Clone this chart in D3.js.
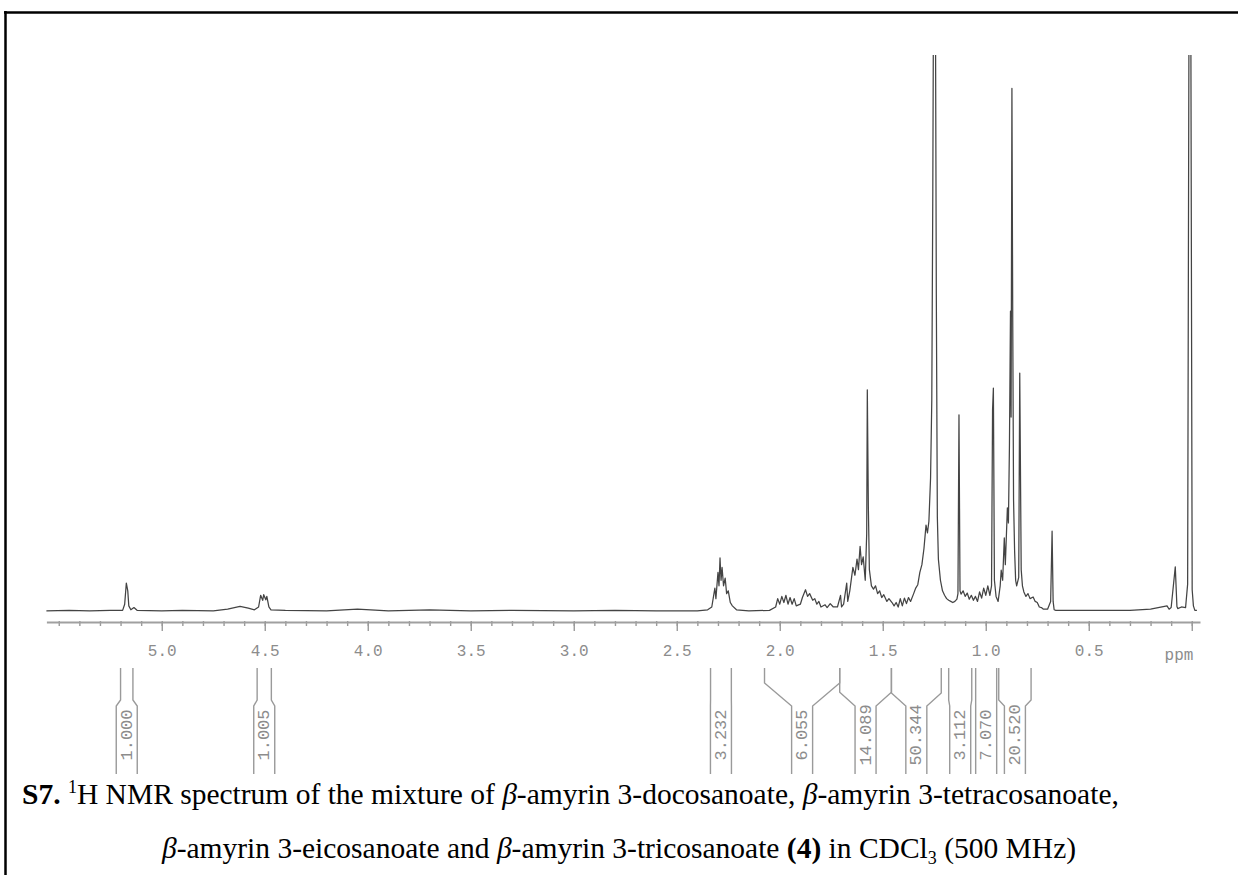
<!DOCTYPE html>
<html><head><meta charset="utf-8">
<script src="https://cdn.jsdelivr.net/npm/d3@7"></script>
<style>body{margin:0;background:#fff}svg{display:block}</style>
</head><body><svg id="c" width="1238" height="875"></svg>
<script>
// ---- data ----
const shiftPpm = [5.56,5.45,5.35,5.25,5.19,5.18,5.172,5.165,5.16,5.15,5.135,5.12,5.0,4.9,4.75,4.68,4.62,4.58,4.55,4.53,4.52,4.51,4.505,4.495,4.49,4.48,4.47,4.4,4.2,4.05,3.9,3.7,3.5,3.3,3.0,2.8,2.6,2.4,2.35,
2.33,2.315,2.31,2.30,2.295,2.29,2.285,2.28,2.273,2.265,2.258,2.25,2.24,2.23,2.21,2.15,2.05,
2.02,2.01,2.0,1.99,1.98,1.97,1.96,1.95,1.94,1.93,1.92,1.90,1.89,1.875,1.865,1.855,1.84,1.83,1.82,1.81,1.80,1.78,1.77,1.755,1.74,1.72,1.705,1.70,1.69,1.675,1.67,
1.66,1.645,1.635,1.625,1.618,1.61,1.603,1.595,1.585,1.578,1.575,1.570,1.565,1.555,1.545,1.535,1.525,1.515,1.505,1.495,1.48,1.47,1.455,1.445,1.435,1.425,1.415,1.405,1.395,1.385,1.375,1.365,1.35,1.34,1.33,1.32,1.31,1.30,1.29,1.283,1.276,1.268,1.262,1.257,1.252,1.246,1.24,1.235,1.23,1.22,1.21,1.20,1.19,1.18,1.17,1.16,1.15,1.14,1.135,1.13,1.125,1.12,1.11,1.10,1.09,1.08,1.07,1.06,1.05,1.04,1.03,1.02,1.01,1.00,0.99,0.98,0.972,0.967,0.963,0.958,0.95,0.94,0.93,0.925,0.918,0.91,0.905,0.895,0.89,0.885,0.880,0.877,0.873,0.869,0.865,0.86,0.855,0.85,0.84,0.835,0.828,0.822,0.815,0.805,0.795,0.785,0.77,0.76,0.75,0.74,0.73,0.72,0.70,0.685,0.678,0.673,0.668,0.66,0.6,0.5,0.4,0.3,0.2,0.12,0.11,0.10,0.08,0.072,0.068,0.05,0.03,0.02,0.012,0.006,-0.002,-0.008,-0.015,-0.025,-0.04];
const intensity = [0.2,0.3,0.2,0.3,0.3,1.4,5.2,3.8,1.1,0.4,0.8,0.3,0.2,0.3,0.2,0.5,1.0,0.7,0.4,0.9,3.0,2.1,3.1,2.2,2.8,0.9,0.4,0.3,0.2,0.5,0.2,0.4,0.2,0.3,0.2,0.3,0.2,0.2,0.4,
0.9,4.3,2.4,7.1,4.7,9.7,5.7,8.0,4.7,6.1,3.3,3.8,1.7,1.1,0.4,0.2,0.3,
0.9,2.4,1.4,2.8,1.7,3.0,1.4,2.6,1.4,2.4,1.1,1.4,2.6,4.0,2.8,3.3,2.1,2.4,1.4,1.9,0.9,1.3,0.8,1.5,0.9,0.9,3.0,0.9,1.4,5.2,1.9,
3.8,8.0,6.6,9.5,7.6,11.8,8.5,9.9,5.7,14,39.9,19,7.6,4.7,4.1,4.7,3.3,3.8,2.6,3.1,1.9,2.4,1.7,1.1,1.7,0.9,2.4,1.1,2.5,1.5,2.6,1.9,3.3,4.3,4.9,7.1,8.5,11.4,15.6,14.2,16.3,24,38,76,130,130,57,17,9.5,5.7,3.8,3.0,2.4,2.1,1.9,1.7,1.9,2.3,3.3,35.4,3.8,3.2,3.8,2.8,3.4,2.3,3.0,2.1,2.8,1.9,3.6,2.5,4.3,3.0,4.7,3.0,4.7,36.3,40.2,5.7,2.8,1.9,4.7,7.5,5.7,13.3,8.5,18.7,16.0,30,54,35,94.0,52,20,11,5.7,4.7,6.2,42.9,7.6,4.7,3.6,2.8,3.3,2.4,2.7,1.9,1.7,0.9,0.8,0.5,0.5,1.9,14.5,1.9,0.4,0.3,0.3,0.3,0.3,0.3,0.5,1.1,0.5,0.8,8.1,1.0,0.6,0.9,0.8,5,130,130,4,1.1,0.3,0.3];

const majorTicks = [5.0,4.5,4.0,3.5,3.0,2.5,2.0,1.5,1.0,0.5,0.0];
const majorTickLabels = ["5.0","4.5","4.0","3.5","3.0","2.5","2.0","1.5","1.0","0.5",""];
const unitLabel = "ppm";

const integralValues = ["1.000","1.005","3.232","6.055","14.089","50.344","3.112","7.070","20.520"];
const integralStart  = [5.200,4.537,2.336,2.074,1.709,1.458,1.180,1.049,0.937];
const integralEnd    = [5.140,4.468,2.235,1.709,1.458,1.216,1.068,0.947,0.780];

// ---- drawing ----
const svg = d3.select("#c");
const W = 1238, H = 875;

// page border lines
svg.append("line").attr("x1",4).attr("x2",W).attr("y1",12.5).attr("y2",12.5).attr("stroke","#000").attr("stroke-width",2.5);
svg.append("line").attr("x1",5.5).attr("x2",5.5).attr("y1",11).attr("y2",H).attr("stroke","#000").attr("stroke-width",2.5);

const x = d3.scaleLinear().domain([5.56,-0.04]).range([46.4,1200]);
const y = d3.scaleLinear().domain([0,100]).range([612,55]);

svg.append("clipPath").attr("id","clip").append("rect")
  .attr("x",40).attr("y",55).attr("width",1170).attr("height",565);

const pts = shiftPpm.map((p,i)=>[p,intensity[i]]);
svg.append("path")
  .attr("clip-path","url(#clip)")
  .attr("d", d3.line().x(d=>x(d[0])).y(d=>y(d[1]))(pts))
  .attr("fill","none").attr("stroke","#444").attr("stroke-width",1.25).attr("stroke-linejoin","round");

// axis
const axisY = 622;
const gMinor = svg.append("g").attr("transform",`translate(0,${axisY-1})`)
  .call(d3.axisBottom(x).tickValues(d3.range(55,-1,-1).map(v=>v/10)).tickFormat("").tickSize(5).tickSizeOuter(0));
gMinor.select(".domain").remove();
const gMajor = svg.append("g").attr("transform",`translate(0,${axisY})`)
  .call(d3.axisBottom(x).tickValues(majorTicks).tickFormat((d,i)=>majorTickLabels[i]).tickSize(9).tickSizeOuter(0).tickPadding(14));
svg.selectAll(".tick line").attr("stroke","#9a9a9a").attr("stroke-width",1.4);
gMajor.select(".domain").attr("stroke","#a0a0a0").attr("stroke-width",2);
gMajor.selectAll(".tick text").attr("font-family","'Liberation Mono', 'DejaVu Sans Mono', monospace")
  .attr("font-size",16).attr("fill","#8c8c8c");
svg.append("text").attr("x",1179).attr("y",axisY+38).attr("text-anchor","middle")
  .attr("font-family","'Liberation Mono', 'DejaVu Sans Mono', monospace").attr("font-size",16).attr("fill","#8c8c8c").text(unitLabel);

// integrals
const gi = svg.append("g").attr("fill","none").attr("stroke","#9a9a9a").attr("stroke-width",1.4);
const yTop=668, yBot=774, yGap=706;
integralValues.forEach((v,i)=>{
  const xl = x(integralStart[i]), xr = x(integralEnd[i]);
  const c = (xl+xr)/2, gl = c-10.5, gr = c+10.5;
  [[xl,gl],[xr,gr]].forEach(([a,b])=>{
    const dx = Math.abs(a-b);
    const ys = yGap - Math.min(23, Math.max(6, dx*0.9));
    gi.append("path").attr("d",`M${a},${yTop}L${a},${ys}L${b},${yGap}L${b},${yBot}`);
  });
  svg.append("text").attr("transform",`translate(${c+0.5},735) rotate(-90)`)
    .attr("text-anchor","middle").attr("dominant-baseline","central")
    .attr("font-family","'Liberation Mono', 'DejaVu Sans Mono', monospace").attr("font-size",17)
    .attr("fill","#8c8c8c").text(v);
});

// caption
const cap = svg.append("g").attr("font-family","'Liberation Serif','Times New Roman',serif").attr("font-size",29.5).attr("fill","#000");
const t1 = cap.append("text").attr("x",22).attr("y",804);
t1.append("tspan").attr("font-weight","bold").text("S7.");
t1.append("tspan").text(" ");
t1.append("tspan").attr("font-size",18).attr("dy",-11).text("1");
t1.append("tspan").attr("dy",11).text("H NMR spectrum of the mixture of ");
t1.append("tspan").attr("font-style","italic").text("β");
t1.append("tspan").text("-amyrin 3-docosanoate, ");
t1.append("tspan").attr("font-style","italic").text("β");
t1.append("tspan").text("-amyrin 3-tetracosanoate,");
const t2 = cap.append("text").attr("x",619).attr("y",858).attr("text-anchor","middle");
t2.append("tspan").attr("font-style","italic").text("β");
t2.append("tspan").text("-amyrin 3-eicosanoate and ");
t2.append("tspan").attr("font-style","italic").text("β");
t2.append("tspan").text("-amyrin 3-tricosanoate ");
t2.append("tspan").attr("font-weight","bold").text("(4)");
t2.append("tspan").text(" in CDCl");
t2.append("tspan").attr("font-size",18).attr("dy",6).text("3");
t2.append("tspan").attr("dy",-6).text(" (500 MHz)");
</script></body></html>
